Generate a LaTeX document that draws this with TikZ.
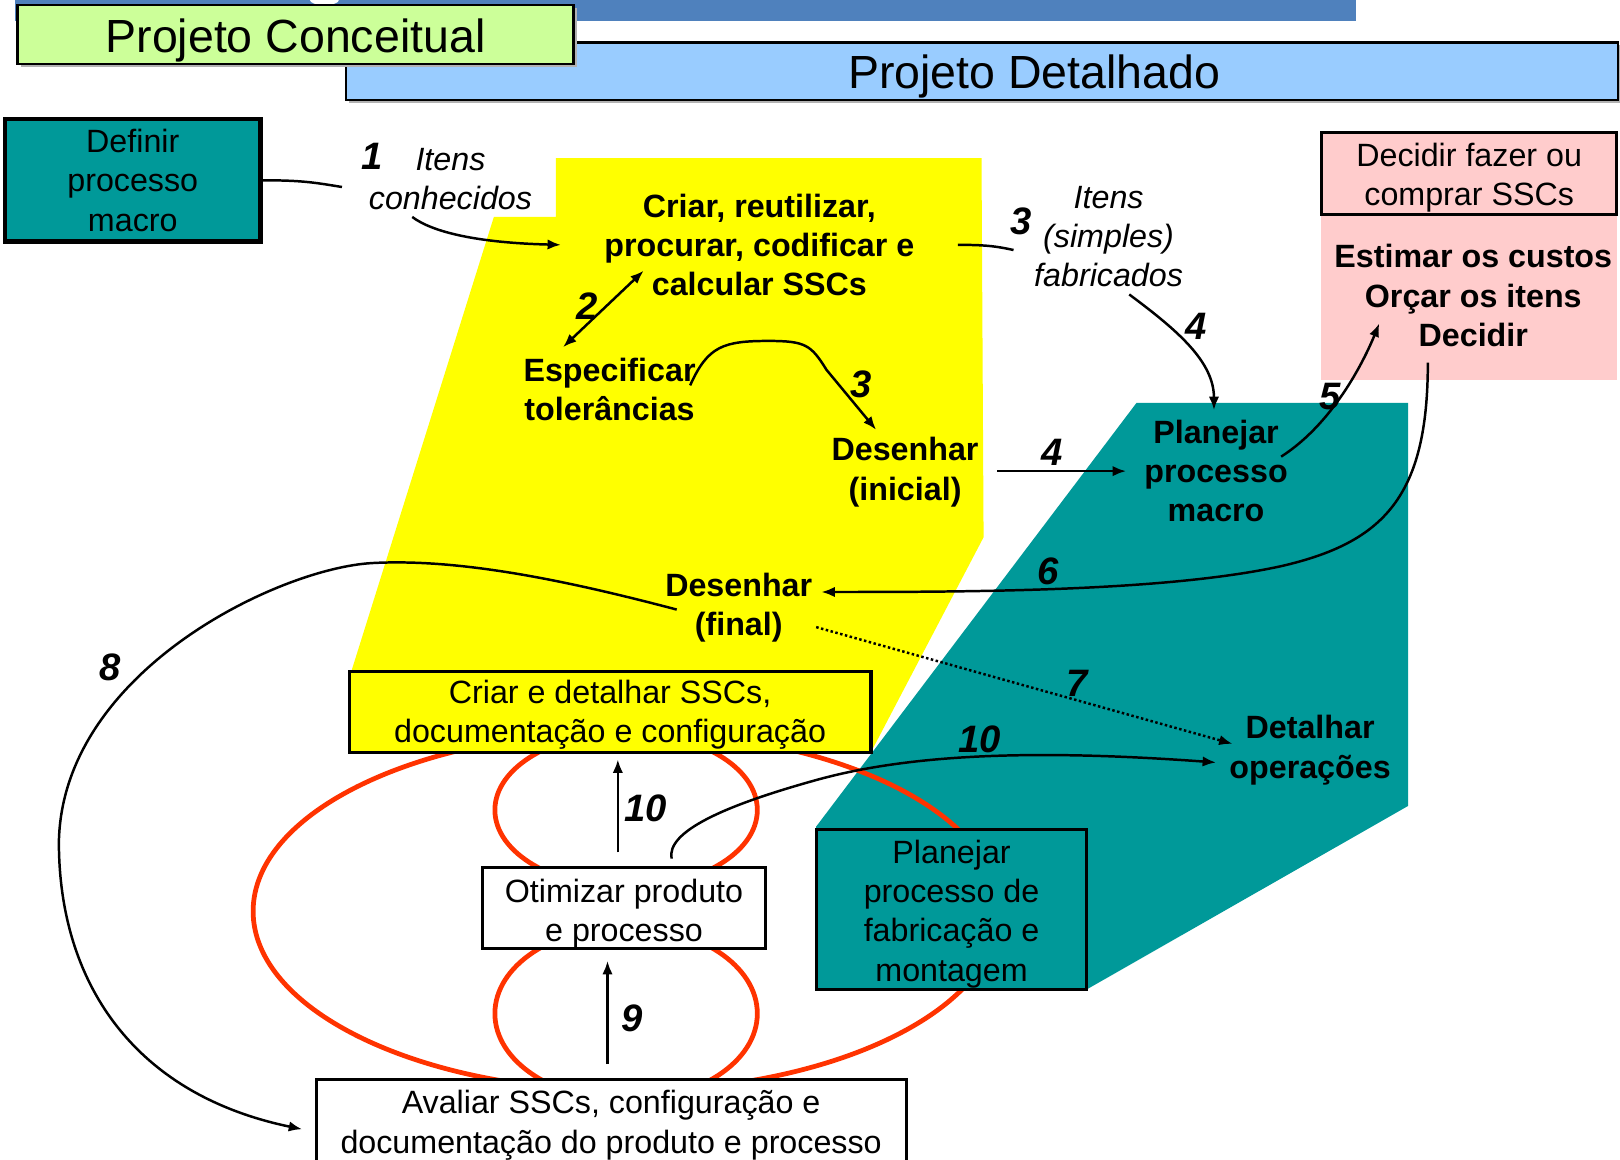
\documentclass[tikz,border=0pt]{standalone}
\usepackage{fontspec}
\setmainfont{Liberation Sans}
\usetikzlibrary{arrows.meta,calc}
\definecolor{barblue}{HTML}{4F81BD}
\definecolor{conceito}{HTML}{CCFF99}
\definecolor{detalhe}{HTML}{99CCFF}
\definecolor{amarelo}{HTML}{FFFF00}
\definecolor{petroleo}{HTML}{009999}
\definecolor{rosa}{HTML}{FFCCCC}
\definecolor{laco}{HTML}{FF3300}
% lower a text block without changing the size the node sees
\newcommand{\baixar}[2]{\raisebox{-#1}[\height][\depth]{#2}}
\begin{document}
\begin{tikzpicture}[x=0.5pt,y=-0.5pt,
  txt/.style={font=\fontsize{15.6}{19}\selectfont, align=center, inner sep=0pt},
  bold/.style={txt, font=\fontsize{15.6}{19}\selectfont\bfseries},
  ital/.style={txt, font=\fontsize{15.6}{19}\selectfont\itshape},
  hdr/.style={draw=black, line width=1.2pt, font=\fontsize{22.5}{26}\selectfont, inner sep=0pt},
  boxs/.style={txt, draw=black, line width=1.5pt},
  num/.style={font=\fontsize{18.5}{20}\selectfont\bfseries\itshape, inner sep=0pt},
  conn/.style={line width=1.2pt},
  arr/.style={conn, -{Latex[length=6.5pt,width=5pt]}},
  loop/.style={draw=laco, line width=2.3pt}]

\clip (0,0) rectangle (1568,1122);
\fill[white] (0,0) rectangle (1568,1122);

% top bar
\fill[barblue] (15,0) rectangle (1312,20);
\fill[white] (314,0) ellipse [x radius=7pt, y radius=2.5pt];

% phase headers
\fill[gray!60] (338,44) rectangle (1569,100);
\node[hdr, fill=detalhe, minimum width=615.5pt, minimum height=28pt] (det) at (950.5,69) {\hspace*{50.5pt}\baixar{2.5pt}{Projeto Detalhado}};
\fill[gray!60] (20,8) rectangle (558,65);
\node[hdr, fill=conceito, minimum width=269pt, minimum height=28.5pt] (conc) at (286,33.5) {\baixar{3pt}{Projeto Conceitual}};

% phase areas
\fill[amarelo] (538,153) -- (950,153) -- (952,520) -- (843,728) -- (340,728) -- (340,650) -- (478,210) -- (538,210) -- cycle;
\fill[petroleo] (1100,390) -- (1363,390) -- (1363,780) -- (1053,957) -- (790,957) -- (790,800) -- cycle;
\fill[rosa] (1279,208) rectangle (1565,368);

% iteration loops
\draw[loop] (606,882) ellipse [x radius=180.5pt, y radius=87pt];
\draw[loop] (606,784) ellipse [x radius=63.5pt, y radius=37.5pt];
\draw[loop] (606,981) ellipse [x radius=63.5pt, y radius=42pt];

% boxes
\node[boxs, fill=petroleo, line width=2.2pt, minimum width=123.5pt, minimum height=59.5pt] (definir) at (128.5,174.5) {Definir\\processo\\macro};
\node[boxs, fill=rosa, minimum width=143pt, minimum height=40pt] (decidir) at (1422,168) {\baixar{2pt}{\parbox{140pt}{\centering Decidir fazer ou\\comprar SSCs}}};
\node[boxs, fill=amarelo, minimum width=252.5pt, minimum height=39pt] (criarB) at (590.5,689) {\baixar{1.5pt}{\parbox{250pt}{\centering Criar e detalhar SSCs,\\documentação e configuração}}};
\node[boxs, fill=white, minimum width=137pt, minimum height=39pt] (otim) at (604,879) {\baixar{2.5pt}{\parbox{134pt}{\centering Otimizar produto\\e processo}}};
\node[boxs, fill=white, minimum width=285.5pt, minimum height=41pt] (avaliar) at (591.5,1086) {\baixar{1.5pt}{\parbox{283pt}{\centering Avaliar SSCs, configuração e\\documentação do produto e processo}}};
\node[boxs, fill=petroleo, minimum width=131pt, minimum height=77.5pt] (planfab) at (921,880.5) {\baixar{2pt}{\parbox{128pt}{\centering Planejar\\processo de\\fabricação e\\montagem}}};

% activities
\node[bold] (criarT) at (735,237) {Criar, reutilizar,\\procurar, codificar e\\calcular SSCs};
\node[bold] (espec) at (590,377) {Especificar\\tolerâncias};
\node[bold] (desIni) at (876,457) {Desenhar\\(inicial)};
\node[bold] (desFin) at (715,588) {Desenhar\\(final)};
\node[bold] (planMac) at (1177,456) {Planejar\\processo\\macro};
\node[bold] (detOp) at (1268,726) {Detalhar\\operações};
\node[bold] (estimar) at (1426,286) {Estimar os custos\\Orçar os itens\\Decidir};
\node[ital] (itens1) at (436,173) {Itens\\conhecidos};
\node[ital] (itens3) at (1073,229) {Itens\\(simples)\\fabricados};

% flow
\draw[conn] (definir.east) .. controls +(40,0) and +(-25,-4) .. ($(itens1)+(-105,8)$);
\draw[arr] ($(itens1)+(-37,37)$) .. controls +(20,15) and +(-80,-2) .. ($(criarT)+(-192,0)$);
\draw[conn, {Latex[length=6.5pt,width=5pt]}-{Latex[length=6.5pt,width=5pt]}] ($(criarT)+(-112,25)$) -- ($(espec)+(-45,-41)$);
\draw[conn] ($(criarT)+(192,0)$) .. controls +(25,0) and +(-18,-4) .. ($(itens3)+(-92,13)$);
\draw[arr] ($(espec)+(78,-4)$) .. controls +(17,-38) and +(-44,0) .. (744,330)
  .. controls +(36,0) and +(-15,-24) .. (800,358) -- ($(desIni)+(-28,-41)$);
\draw[arr] ($(itens3)+(20,56)$) .. controls +(47,35) and +(0,-47) .. ($(planMac)+(-2,-59)$);
\draw[arr] ($(desIni)+(89,-1)$) -- ($(planMac)+(-87,0)$);
\draw[arr] ($(planMac)+(63,-14)$) .. controls +(50,-32) and +(-15,37) .. ($(estimar)+(-91,27)$);
\draw[arr] ($(estimar)+(-44,65)$) .. controls +(0,129) and +(100,-23) .. (1240,548)
  .. controls +(-110,24) and +(155,0) .. ($(desFin)+(80,-15)$);
\draw[conn, dash pattern=on 1.2pt off 1.2pt, -{Latex[length=6.5pt,width=5pt]}] ($(desFin)+(75,19)$) -- ($(detOp)+(-75,-6)$);
\draw[arr] ($(desFin)+(-60,2)$) .. controls +(-95,-25) and +(90,-5) .. (360,545)
  .. controls +(-90,5) and +(3,-165) .. (57,815)
  .. controls +(0,135) and +(-164,-34) .. ($(avaliar.west)+(-12,7)$);
\draw[arr] ($(avaliar)+(-3.5,-56)$) -- ($(otim)+(-16,51)$);
\draw[arr] ($(otim)+(-6,-54)$) -- ($(criarB)+(7.5,46)$);
\draw[arr] ($(otim)+(46,-48)$) .. controls +(-5,-26) and +(-90,25) .. (790,755)
  .. controls +(90,-25) and +(-177,-13) .. ($(detOp)+(-91,12)$);

% step numbers
\node[num] (n1) at (360,151) {1};
\node[num] (n2) at (568,296) {2};
\node[num] (n3a) at (833,372) {3};
\node[num] (n3b) at (988,214) {3};
\node[num] (n4a) at (1158,316) {4};
\node[num] (n4b) at (1018,438) {4};
\node[num] (n5) at (1287,384) {5};
\node[num] (n6) at (1014,553) {6};
\node[num] (n7) at (1043,661) {7};
\node[num] (n8) at (107,646) {8};
\node[num] (n10a) at (625,782) {10};
\node[num] (n9) at (612,986) {9};
\node[num] (n10b) at (948,716) {10};
\end{tikzpicture}
\end{document}
